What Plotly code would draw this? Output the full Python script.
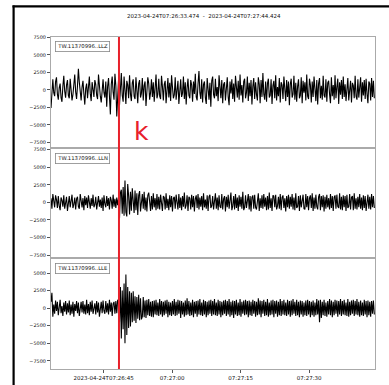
import pandas as pd
import plotly.graph_objects as go
from plotly.subplots import make_subplots

# Station channels
channels = ["TW.11370996..LLZ", "TW.11370996..LLN", "TW.11370996..LLE"]

start_time = "2023-04-24 07:26:33.474"
end_time = "2023-04-24 07:27:44.424"
sample_step = "200ms"
pick_time = "2023-04-24 07:26:48.36"
pick_label = "k"
amp_unit = 100  # amplitudes below are listed in hundreds of counts

llz = [
    -26, 8, 15, -4, -9, 12, 18, -6, -14, 3, 9, -11, -17, 5, 20, -2, -11, 7, 14, -8,
    -12, 16, 4, -15, -7, 10, 22, -3, -13, 6, 30, 11, -9, -15, 4, 13, -6, -21, 2, 9,
    -12, 7, 19, -5, -16, 11, -3, -10, 14, 8, -8, -13, 22, 3, -9, -18, 6, 15, -4, -11,
    12, -24, 5, 17, -9, -35, 8, 19, -3, -14, 23, 6, -38, -10, 16, -22, 12, 24, -8, -17,
    19, -4, -20, 13, 7, -12, 21, -6, -16, 10, 15, -9, -13, 18, 2, -19, 9, 14, -11, -5,
    17, -15, 6, 12, -23, -7, 18, 9, -14, -4, 15, -10, 11, -17, 3, 22, -12, -6, 16, -9,
    -13, 20, 5, -15, 8, 13, -19, -3, 17, -11, 10, -16, 21, 4, -12, -7, 18, -14, 9, 13,
    -20, 6, 15, -10, -5, 19, -13, 11, -21, 3, 16, -8, -12, 14, 7, -17, 12, -6, 23, -10,
    -15, 9, 27, -4, -13, 15, -18, 8, 12, -11, -20, 17, 5, -14, 10, -24, 13, 19, -7, -12,
    16, -9, 4, -16, 21, -3, -12, 14, -19, 8, 11, -15, 6, 18, -10, -22, 12, -5, 15, -13,
    9, -17, 20, -6, -11, 13, -14, 22, -8, 7, -18, 12, 16, -12, -4, 19, -16, 10, -9, 14,
    -21, 5, 17, -13, 11, -7, -15, 18, 8, -19, 14, -10, 24, -6, -14, 12, -17, 9, 16, -11,
    -8, 15, -20, 6, 13, -12, 21, -15, 4, -9, 17, -18, 11, 7, -13, 19, -5, -16, 14, -10,
    12, -22, 8, 16, -11, -6, 20, -14, 10, -17, 5, 15, -12, -8, 18, -19, 13, -4, 11, -15,
    22, -9, -13, 16, 7, -18, 12, -10, 19, -5, -16, 14, -21, 9, 17, -12, 6, -14, 20, -8,
    -11, 15, -17, 10, 13, -6, -19, 18, -9, 7, -14, 21, -12, 4, 16, -20, 11, -7, 14, -13,
    19, -10, 8, -16, 12, 17, -15, -5, 13, -18, 10, 6, -12, 20, -9, -14, 15, -11, 7, 18,
    -17, 11, -8, 14, -13, 16, -6, -19, 12, 9, -15, 17, -10, 13, -12,
]
lln = [
    6, -9, 12, -3, -7, 10, 4, -8, 9, -5, -11, 7, 3, -6, 10, -9, 5, 8, -12, -4,
    9, -7, 6, 11, -8, -3, 7, -10, 5, 8, -6, -9, 12, 2, -7, 6, -11, 9, -4, 7,
    -8, 10, 3, -9, 6, -5, 11, -7, -3, 8, -10, 5, 9, -6, 4, -8, 7, -12, 10, -2,
    -7, 9, -5, 6, -10, 8, 3, -9, 11, -6, 5, -8, 7, -4, 6, -23, 14, 18, -16, 22,
    -19, 31, -14, -20, 26, 9, -17, 15, -12, 20, -8, -15, 17, -11, 13, -18, 10, 16, -13, 8,
    12, -9, 15, -11, 7, -13, 10, 14, -8, -12, 9, -10, 13, -7, 6, -11, 12, -9, 8, -10,
    11, -6, -12, 9, 7, -10, 13, -8, 5, -11, 10, -7, 9, -13, 6, 8, -9, 11, -5, -10,
    12, -8, 7, -11, 9, -6, 14, -9, -4, 10, -12, 8, 6, -10, 11, -7, 9, -13, 5, 10,
    -8, 12, -10, 7, -6, 9, -11, 13, -7, 4, -9, 10, -12, 8, 11, -8, -5, 9, -10, 6,
    13, -9, 7, -11, 10, -6, -8, 12, -10, 5, 9, -13, 8, -7, 11, -9, 6, 14, -11, -5,
    9, -10, 12, -8, 7, -12, 10, -6, 8, -9, 15, -11, -7, 10, -8, 6, 12, -10, 9, -13,
    7, 10, -9, 11, -7, -10, 8, 13, -12, 6, -8, 10, -9, 12, -6, 7, -11, 9, -10, 14,
    -8, 6, -12, 10, 9, -7, 11, -10, -5, 8, -9, 12, -11, 7, 10, -8, 6, -13, 9, -7,
    11, -9, 8, -6, 12, -10, 7, -11, 13, -8, -6, 9, -12, 10, -7, 8, 11, -9, -10, 12,
    -7, 9, -11, 6, 10, -8, 13, -12, 7, -9, 11, -6, -10, 8, 12, -11, 9, -7, 10, -13,
    8, -9, 11, -7, 6, -10, 12, -8, 9, -12, 7, 10, -9, 11, -6, -8, 13, -10, 8, -11,
    10, -7, 9, -12, 11, -8, -6, 12, -10, 7, 9, -11, 13, -9, 6, -10, 8, -7, 12, -9,
    7, -11, 10, -8, 9, -12, 6, 11, -9, 8, -10, 12, -7, 9, -8,
]
lle = [
    9, 22, -12, 5, -8, 11, -4, 9, -10, 6, 12, -7, 3, -11, 8, -5, 10, -9, 7, -6,
    11, -10, 5, -8, 9, -12, 6, -4, 10, -7, 8, -11, 4, 9, -6, 10, -8, 5, -9, 12,
    -7, 6, -10, 9, -5, 11, -8, 3, 7, -9, 10, -6, 8, -12, 5, 9, -7, 11, -4, -8,
    10, -6, 7, -9, 12, -5, 8, -11, 6, 9, -8, 10, -7, 12, 10, -20, 30, -43, 25, -30,
    35, -50, 48, -38, 30, -28, 24, -26, 22, -20, 24, -18, 17, -21, 16, -15, 19, -17, 14, -16,
    -12, 16, -13, 11, -14, 12, -10, 13, -11, 9, -12, 10, -13, 11, -9, 12, -10, 8, -11, 13,
    -9, 10, -12, 9, -10, 11, -8, 12, -13, 9, -10, 8, -11, 10, -9, 13, -11, 9, -10, 12,
    -8, 11, -14, 10, -9, 8, -12, 11, -10, 14, -9, 10, -11, 8, -10, 12, -13, 9, -8, 10,
    -12, 11, -9, 13, -10, 8, -11, 12, -9, 10, -13, 9, -10, 11, -8, 12, -11, 10, -9, 13,
    -10, 8, -11, 12, -9, 10, -13, 9, -10, 11, -8, 12, -11, 10, -9, 13, -12, 9, -10, 11,
    -14, 10, -9, 12, -11, 8, -10, 13, -12, 9, -8, 11, -10, 12, -9, 10, -13, 11, -10, 9,
    -11, 12, -8, 10, -12, 9, -10, 14, -9, 11, -13, 10, -8, 12, -11, 9, -10, 13, -12, 8,
    -10, 11, -9, 12, -13, 10, -8, 11, -12, 9, -10, 13, -11, 10, -9, 12, -10, 8, -11, 12,
    -9, 10, -12, 11, -10, 13, -8, 9, -11, 12, -10, 9, -13, 11, -9, 10, -12, 8, -10, 11,
    -11, 12, -9, 10, -13, 9, -10, 11, -12, 8, -10, 13, -9, 11, -20, 12, -14, 9, -10, 12,
    -11, 8, -12, 10, -9, 13, -10, 11, -13, 9, -10, 12, -8, 11, -12, 10, -9, 13, -11, 10,
    -9, 12, -10, 8, -11, 13, -12, 9, -10, 11, -8, 12, -11, 10, -9, 13, -10, 9, -12, 11,
    -10, 8, -11, 12, -9, 10, -13, 11, -10, 9, -12, 10, -8, 11, -9,
]
traces = [llz, lln, lle]

y_ticks = [-7500, -5000, -2500, 0, 2500, 5000, 7500]
y_ranges = [[-8250, 7550], [-7950, 7780], [-8650, 7090]]
x_tickvals = ["2023-04-24 07:26:45", "2023-04-24 07:27:00",
              "2023-04-24 07:27:15", "2023-04-24 07:27:30"]
x_ticktext = ["2023-04-24T07:26:45", "07:27:00", "07:27:15", "07:27:30"]
title_text = "2023-04-24T07:26:33.474  -  2023-04-24T07:27:44.424"

W, H = 389, 385
ML, MR, MT, MB = 51, 14, 37, 16
PW, PH = W - ML - MR, H - MT - MB


def px(xp):
    return (xp - ML) / PW


def py(yp):
    return (H - MB - yp) / PH


fig = make_subplots(rows=3, cols=1, shared_xaxes=True, vertical_spacing=0)

for i, vals in enumerate(traces):
    t = pd.date_range(start_time, periods=len(vals), freq=sample_step)
    fig.add_trace(go.Scatter(x=t, y=[v * amp_unit for v in vals], mode="lines",
                             line=dict(color="black", width=1.1),
                             showlegend=False, hoverinfo="skip"),
                  row=i + 1, col=1)

axis_line = "#aaaaaa"
for i in range(3):
    fig.update_yaxes(row=i + 1, col=1, range=y_ranges[i], tickvals=y_ticks,
                     automargin=False,
                     showgrid=False, zeroline=False, showline=True, mirror=True,
                     linecolor=axis_line, linewidth=1.2, ticks="outside",
                     ticklen=3, tickwidth=0.8, tickcolor="#555555",
                     tickfont=dict(family="DejaVu Sans", size=4.9, color="#111111"))
    fig.update_xaxes(row=i + 1, col=1, type="date", range=[start_time, end_time],
                     automargin=False,
                     showgrid=False, zeroline=False, showline=True, mirror=True,
                     linecolor=axis_line, linewidth=1.2,
                     tickvals=x_tickvals, ticktext=x_ticktext,
                     ticks="outside" if i == 2 else "", ticklen=3, tickwidth=0.8,
                     tickcolor="#555555", showticklabels=(i == 2),
                     tickfont=dict(family="DejaVu Sans", size=5.5, color="#111111"))

# Channel labels in the upper-left corner of each panel
label_tops = [41.5, 152.5, 263]
annotations = []
for name, top in zip(channels, label_tops):
    annotations.append(dict(text=name, xref="paper", yref="paper",
                            x=px(55), y=py(top), xanchor="left", yanchor="top",
                            showarrow=False, bgcolor="white",
                            bordercolor="#888888", borderwidth=0.8, borderpad=1.5,
                            font=dict(family="DejaVu Sans", size=5.3, color="#111111")))

annotations.append(dict(text=title_text, xref="paper", yref="paper",
                        x=px(203.5), y=py(16), xanchor="center", yanchor="middle",
                        showarrow=False,
                        font=dict(family="DejaVu Sans", size=5.5, color="#111111")))

annotations.append(dict(text=pick_label, xref="paper", yref="paper",
                        x=px(141), y=py(131), xanchor="center", yanchor="middle",
                        showarrow=False,
                        font=dict(family="DejaVu Sans", size=25, color="#e8202a")))

shapes = [
    # pick marker across all three panels
    dict(type="line", xref="x", yref="paper", x0=pick_time, x1=pick_time,
         y0=0, y1=1, line=dict(color="#e8202a", width=2)),
    # dark frame along the top and left edges
    dict(type="line", xref="paper", yref="paper", x0=px(12.5), x1=px(392),
         y0=py(6.3), y1=py(6.3), line=dict(color="black", width=2.2)),
    dict(type="line", xref="paper", yref="paper", x0=px(13.6), x1=px(13.6),
         y0=py(5.5), y1=py(390), line=dict(color="black", width=2.2)),
]

fig.update_layout(width=W, height=H,
                  margin=dict(l=ML, r=MR, t=MT, b=MB),
                  paper_bgcolor="white", plot_bgcolor="white",
                  annotations=annotations, shapes=shapes)

fig.write_html("out.html")
